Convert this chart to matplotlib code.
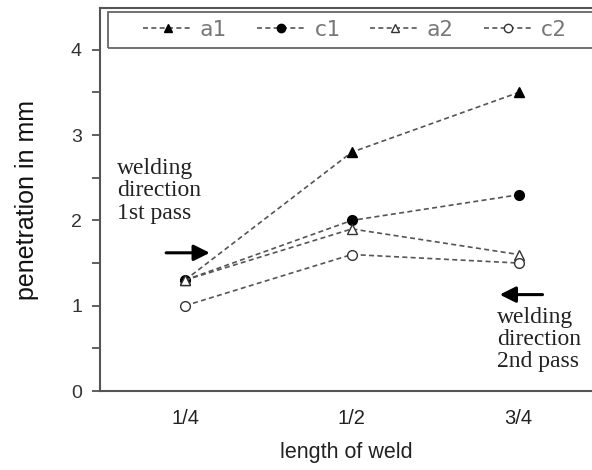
import matplotlib.pyplot as plt
from matplotlib.lines import Line2D
from matplotlib.patches import Rectangle

positions = ["1/4", "1/2", "3/4"]
a1 = [1.3, 2.8, 3.5]
c1 = [1.3, 2.0, 2.3]
a2 = [1.3, 1.9, 1.6]
c2 = [1.0, 1.6, 1.5]

fig = plt.figure(figsize=(5.92, 4.7), dpi=100)
ax = fig.add_axes([100 / 592, 1 - 391 / 470, 492 / 592, 383 / 470])

x = range(len(positions))
line_kw = dict(linestyle=(0, (3, 2)), color="#555555", linewidth=1.2)
ax.plot(x, a1, marker="^", markersize=7, markerfacecolor="black", markeredgecolor="black", **line_kw)
ax.plot(x, c1, marker="o", markersize=7, markerfacecolor="black", markeredgecolor="black", **line_kw)
ax.plot(x, a2, marker="^", markersize=7, markerfacecolor="white", markeredgecolor="#333333", **line_kw)
ax.plot(x, c2, marker="o", markersize=7, markerfacecolor="white", markeredgecolor="#333333", **line_kw)

ax.set_xlim(-0.51, 2.44)
ax.set_ylim(0, 4.49)
ax.set_xticks(list(x))
ax.set_xticklabels(positions, family="Liberation Sans")
ax.set_yticks([0, 1, 2, 3, 4])
ax.set_yticklabels(["0", "1", "2", "3", "4"], family="Liberation Sans")
ax.set_yticks([0.5, 1.5, 2.5, 3.5], minor=True)
ax.tick_params(axis="y", which="both", direction="out", length=6, width=1.2, color="#444444",
               labelsize=14, labelcolor="#333333", pad=7)
ax.tick_params(axis="x", length=0, labelsize=14.5, labelcolor="#222222", pad=13)
for s in ["left", "bottom", "top"]:
    ax.spines[s].set_color("#555555")
    ax.spines[s].set_linewidth(1.5)
ax.spines["right"].set_visible(False)

ax.set_ylabel("penetration in mm", fontsize=18, family="Liberation Sans", labelpad=23, color="#111111")
ax.set_xlabel("length of weld", fontsize=15.5, family="Liberation Sans", labelpad=10, color="#222222")

# legend box runs off the right edge of the picture
ax.add_patch(Rectangle((0.016, 0.896), 1.2, 0.094, transform=ax.transAxes, fill=False,
                       edgecolor="#666666", linewidth=1.3, clip_on=True))
handles = [
    Line2D([], [], marker="^", markerfacecolor="black", markeredgecolor="black", markersize=6, **line_kw),
    Line2D([], [], marker="o", markerfacecolor="black", markeredgecolor="black", markersize=6, **line_kw),
    Line2D([], [], marker="^", markerfacecolor="white", markeredgecolor="#333333", markersize=6, **line_kw),
    Line2D([], [], marker="o", markerfacecolor="white", markeredgecolor="#333333", markersize=6, **line_kw),
]
leg = ax.legend(handles, ["a1", "c1", "a2", "c2"], loc="center left", bbox_to_anchor=(0.088, 0.943),
                ncol=4, frameon=False, handlelength=2.2, handletextpad=0.35,
                columnspacing=1.35, borderpad=0, borderaxespad=0,
                prop={"family": "DejaVu Sans Mono", "size": 16})
for t in leg.get_texts():
    t.set_color("#777777")

serif = {"family": "Liberation Serif", "size": 17, "color": "#222222"}
ax.text(-0.41, 2.73, "welding\ndirection\n1st pass", va="top", ha="left", linespacing=1.08, **serif)
ax.annotate("", xy=(0.165, 1.62), xytext=(-0.13, 1.62),
            arrowprops=dict(arrowstyle="-|>", color="black", lw=2.2, mutation_scale=24))
ax.text(1.87, 0.99, "welding\ndirection\n2nd pass", va="top", ha="left", linespacing=1.08, **serif)
ax.annotate("", xy=(1.87, 1.13), xytext=(2.16, 1.13),
            arrowprops=dict(arrowstyle="-|>", color="black", lw=2.2, mutation_scale=24))

fig.savefig("out.png", dpi=100)
